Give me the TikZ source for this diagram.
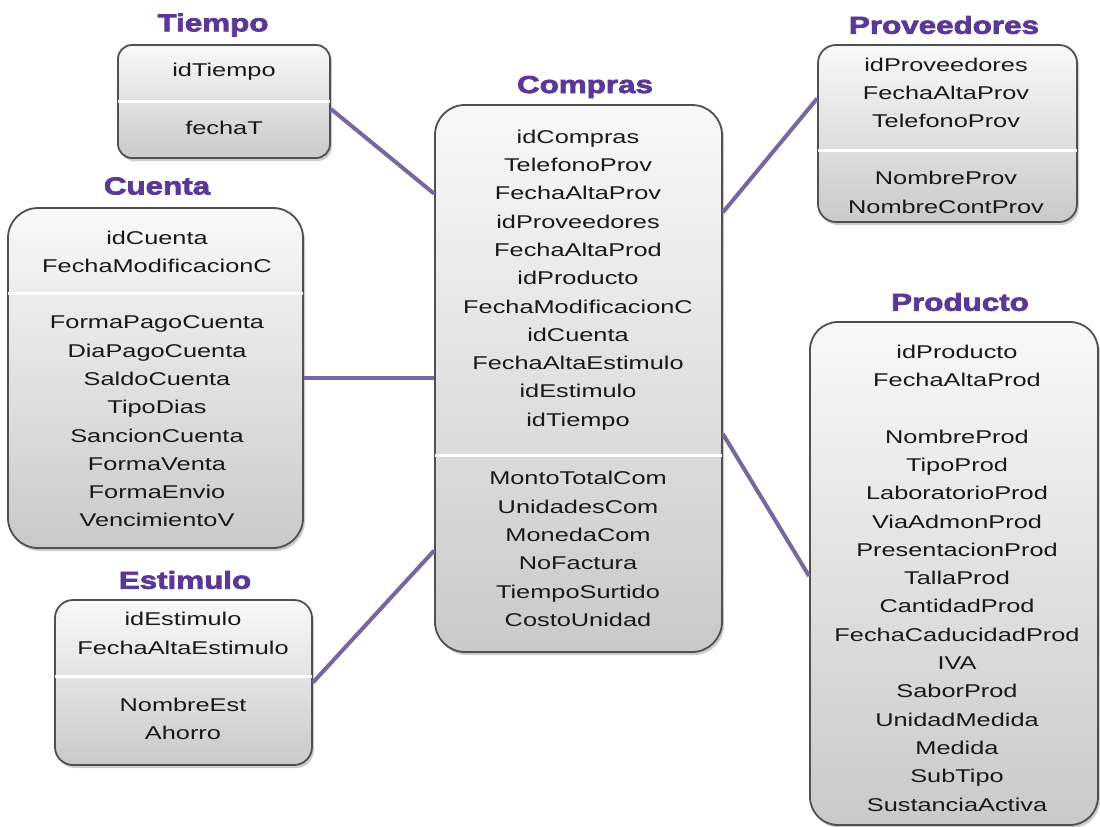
\documentclass[tikz,border=0pt]{standalone}
\usepackage{fontspec}
\setmainfont{Liberation Sans}
\newfontfamily\fieldfont[FakeStretch=1.37]{Liberation Sans}
\newfontfamily\titlefont[FakeStretch=1.28,FakeBold=3]{Liberation Sans}
\usetikzlibrary{shadows,calc}
\definecolor{ttl}{RGB}{92,56,150}
\definecolor{conn}{RGB}{120,102,160}
\definecolor{bord}{RGB}{80,80,80}
\definecolor{txt}{RGB}{25,25,25}
\tikzset{
  tbl/.style={rectangle, draw=bord, line width=1.8pt, top color=gray!5, bottom color=gray!42,
    drop shadow={shadow xshift=2pt, shadow yshift=-3pt, opacity=0.4}, inner sep=0pt},
  ttlnode/.style={text=ttl, font=\titlefont\bfseries\fontsize{24.5}{28}\selectfont, inner sep=0pt},
  fld/.style={text=txt, align=center, font=\fieldfont\fontsize{18.5}{28.3}\selectfont, inner sep=0pt},
  sep/.style={white, line width=3pt},
  link/.style={conn, line width=4pt},
}
\begin{document}
\begin{tikzpicture}[x=1pt,y=-1pt]
\useasboundingbox[fill=white] (0,0) rectangle (1100,827);

% boxes
\node[tbl, rounded corners=14pt, minimum width=212pt, minimum height=113pt] (tiempo) at (224,101.5) {};
\node[tbl, rounded corners=30pt, minimum width=287pt, minimum height=547pt] (compras) at (578.5,378.5) {};
\node[tbl, rounded corners=18pt, minimum width=259pt, minimum height=177pt] (prov) at (947.5,133.5) {};
\node[tbl, rounded corners=30pt, minimum width=295pt, minimum height=340pt] (cuenta) at (155.5,378) {};
\node[tbl, rounded corners=28pt, minimum width=288pt, minimum height=503pt] (prod) at (954,573.5) {};
\node[tbl, rounded corners=18pt, minimum width=257pt, minimum height=165pt] (estim) at (183.5,682.5) {};

% separators
\draw[sep] ([xshift=1pt]tiempo.west |- 0,101) -- ([xshift=-1pt]tiempo.east |- 0,101);
\draw[sep] ([xshift=1pt]compras.west |- 0,455) -- ([xshift=-1pt]compras.east |- 0,455);
\draw[sep] ([xshift=1pt]prov.west |- 0,150) -- ([xshift=-1pt]prov.east |- 0,150);
\draw[sep] ([xshift=1pt]cuenta.west |- 0,293) -- ([xshift=-1pt]cuenta.east |- 0,293);
\draw[sep] ([xshift=1pt]estim.west |- 0,676) -- ([xshift=-1pt]estim.east |- 0,676);

% titles
\node[ttlnode] (tTiempo) at (213,25) {Tiempo};
\node[ttlnode] (tCompras) at (585,87) {Compras};
\node[ttlnode] (tProv) at (944,25) {Proveedores};
\node[ttlnode] (tCuenta) at (157,186) {Cuenta};
\node[ttlnode] (tProd) at (960,302) {Producto};
\node[ttlnode] (tEstim) at (185,580) {Estimulo};

% fields
\node[fld] (tiempoA) at (224,72) {idTiempo};
\node[fld] (tiempoB) at (224,128) {fechaT};

\node[fld] (comprasA) at (578,280) {idCompras\\TelefonoProv\\FechaAltaProv\\idProveedores\\FechaAltaProd\\idProducto\\FechaModificacionC\\idCuenta\\FechaAltaEstimulo\\idEstimulo\\idTiempo};
\node[fld] (comprasB) at (578,549) {MontoTotalCom\\UnidadesCom\\MonedaCom\\NoFactura\\TiempoSurtido\\CostoUnidad};

\node[fld] (provA) at (946,93) {idProveedores\\FechaAltaProv\\TelefonoProv};
\node[fld] (provB) at (946,192.5) {NombreProv\\NombreContProv};

\node[fld] (cuentaA) at (157,252) {idCuenta\\FechaModificacionC};
\node[fld] (cuentaB) at (157,421.5) {FormaPagoCuenta\\DiaPagoCuenta\\SaldoCuenta\\TipoDias\\SancionCuenta\\FormaVenta\\FormaEnvio\\VencimientoV};

\node[fld] (prodA) at (957,366) {idProducto\\FechaAltaProd};
\node[fld] (prodB) at (957,620.5) {NombreProd\\TipoProd\\LaboratorioProd\\ViaAdmonProd\\PresentacionProd\\TallaProd\\CantidadProd\\FechaCaducidadProd\\IVA\\SaborProd\\UnidadMedida\\Medida\\SubTipo\\SustanciaActiva};

\node[fld] (estimA) at (183,633.5) {idEstimulo\\FechaAltaEstimulo};
\node[fld] (estimB) at (183,719) {NombreEst\\Ahorro};

% connectors
\draw[link] (tiempo.-4.6) -- (compras.128.8);
\draw[link] (prov.165.5) -- (compras.49.6);
\draw[link] (cuenta.east) -- (cuenta.east -| compras.west);
\draw[link] (estim.east) -- (compras.-130.3);
\draw[link] (compras.-21.5) -- (prod.181.6);
\end{tikzpicture}
\end{document}
